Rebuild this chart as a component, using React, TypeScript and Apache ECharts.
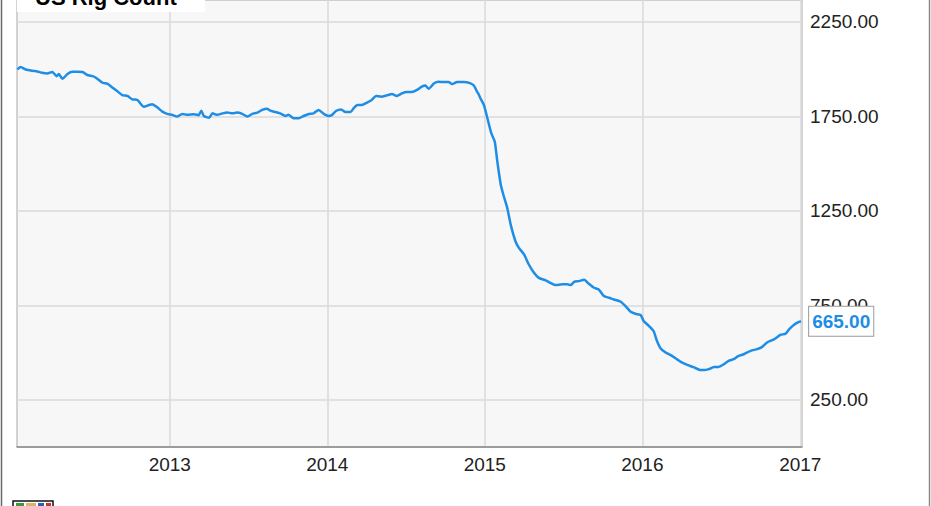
import React, { useEffect, useRef } from "react";
import * as echarts from "echarts";

const titleText = "US Rig Count";
const lastValueLabel = "665.00";

const dates = [
  "2012-01-14", "2012-01-21", "2012-02-02", "2012-02-17", "2012-02-29", "2012-03-11", "2012-03-23", "2012-04-04",
  "2012-04-14", "2012-04-19", "2012-04-27", "2012-05-09", "2012-05-20", "2012-06-01", "2012-06-13", "2012-06-24",
  "2012-07-06", "2012-07-13", "2012-07-29", "2012-08-09", "2012-08-21", "2012-09-01", "2012-09-13", "2012-09-25",
  "2012-10-06", "2012-10-18", "2012-11-02", "2012-11-14", "2012-11-21", "2012-12-03", "2012-12-15", "2012-12-26",
  "2013-01-07", "2013-01-18", "2013-01-30", "2013-02-11", "2013-02-26", "2013-03-09", "2013-03-15", "2013-03-21",
  "2013-04-02", "2013-04-10", "2013-04-21", "2013-05-03", "2013-05-14", "2013-05-26", "2013-06-06", "2013-06-18",
  "2013-06-30", "2013-07-11", "2013-07-23", "2013-08-03", "2013-08-14", "2013-08-22", "2013-09-03", "2013-09-14",
  "2013-09-26", "2013-10-03", "2013-10-15", "2013-10-27", "2013-11-07", "2013-11-19", "2013-11-30", "2013-12-12",
  "2013-12-24",
  "2014-01-04", "2014-01-12", "2014-01-22", "2014-02-02", "2014-02-12", "2014-02-24", "2014-03-03", "2014-03-12",
  "2014-03-22", "2014-04-03", "2014-04-14", "2014-04-24", "2014-05-06", "2014-05-19", "2014-05-31", "2014-06-11",
  "2014-06-23", "2014-07-04", "2014-07-16", "2014-07-28", "2014-08-08", "2014-08-16", "2014-08-24", "2014-09-05",
  "2014-09-16", "2014-09-28", "2014-10-09", "2014-10-17", "2014-10-29", "2014-11-13", "2014-11-29", "2014-12-07",
  "2014-12-14", "2014-12-18", "2014-12-22", "2014-12-30",
  "2015-01-07", "2015-01-16", "2015-01-24", "2015-01-30", "2015-02-07", "2015-02-13", "2015-02-22", "2015-03-02",
  "2015-03-13", "2015-03-21", "2015-04-02", "2015-04-13", "2015-04-25", "2015-05-06", "2015-05-22", "2015-06-02",
  "2015-06-14", "2015-06-30", "2015-07-11", "2015-07-19", "2015-07-27", "2015-08-07", "2015-08-19", "2015-08-30",
  "2015-09-11", "2015-09-22", "2015-10-04", "2015-10-16", "2015-10-27", "2015-11-12", "2015-11-23", "2015-12-05",
  "2015-12-16", "2015-12-28",
  "2016-01-04", "2016-01-16", "2016-01-27", "2016-02-04", "2016-02-12", "2016-02-24", "2016-03-07", "2016-03-18",
  "2016-03-30", "2016-04-14", "2016-04-30", "2016-05-15", "2016-05-23", "2016-06-03", "2016-06-15", "2016-06-26",
  "2016-07-08", "2016-07-19", "2016-07-31", "2016-08-11", "2016-08-23", "2016-09-08", "2016-09-23", "2016-10-05",
  "2016-10-16", "2016-11-01", "2016-11-16", "2016-11-28", "2016-12-06", "2016-12-17", "2016-12-29", "2017-01-03",
];

const rigCount = [
  1998, 2012, 1998, 1991, 1988, 1981, 1977, 1985,
  1963, 1974, 1949, 1974, 1986, 1986, 1985, 1969,
  1963, 1956, 1928, 1924, 1903, 1884, 1863, 1858,
  1840, 1837, 1801, 1810, 1814, 1798, 1775, 1763,
  1758, 1749, 1763, 1758, 1761, 1756, 1780, 1752,
  1743, 1766, 1758, 1766, 1771, 1766, 1770, 1763,
  1749, 1763, 1770, 1784, 1791, 1780, 1773, 1766,
  1752, 1758, 1740, 1740, 1752, 1763, 1766, 1784,
  1763,
  1752, 1758, 1780, 1787, 1773, 1773, 1793, 1810,
  1810, 1823, 1837, 1858, 1854, 1861, 1868, 1858,
  1872, 1879, 1879, 1890, 1907, 1914, 1896, 1924,
  1933, 1932, 1932, 1921, 1932, 1932, 1925, 1912,
  1881, 1866, 1845, 1810,
  1740, 1661, 1617, 1511, 1388, 1335, 1265, 1177,
  1089, 1054, 1019, 966, 922, 895, 882, 869,
  857, 861, 861, 857, 874, 878, 885, 864,
  843, 834, 799, 790, 781, 769, 746, 716,
  705, 699,
  667, 641, 614, 561, 523, 500, 486, 470,
  451, 435, 421, 407, 407, 412, 424, 424,
  438, 456, 465, 482, 491, 509, 518, 530,
  553, 570, 593, 600, 623, 646, 662, 665,
];

const xTickDates = ["2013-01-01", "2014-01-01", "2015-01-01", "2016-01-01", "2017-01-01"];
const yTickValues = [250, 750, 1250, 1750, 2250];
const xRange = ["2012-01-13", "2017-01-05"];
const yRange = [0, 2366];

const FONT = "'Liberation Sans', Arial, Helvetica, sans-serif";
const LINE_COLOR = "#1e8de6";

const toTime = (d: string) => new Date(d + "T00:00:00").getTime();

export default function App() {
  const ref = useRef<HTMLDivElement>(null);

  useEffect(() => {
    if (!ref.current) return;
    const chart = echarts.init(ref.current, undefined, { renderer: "svg" });
    const data = dates.map((d, i) => [toTime(d), rigCount[i]]);
    const xTicks = xTickDates.map(toTime);

    chart.setOption({
      animation: false,
      backgroundColor: "#ffffff",
      textStyle: { fontFamily: FONT },
      grid: {
        left: 17,
        right: 129,
        top: -2,
        bottom: 59,
        show: true,
        backgroundColor: "#f7f7f7",
        borderColor: "#a8a8a8",
        borderWidth: 1,
      },
      xAxis: {
        type: "value",
        min: toTime(xRange[0]),
        max: toTime(xRange[1]),
        axisLine: { show: true, lineStyle: { color: "#8a8a8a", width: 1.5 } },
        axisTick: { show: false, customValues: xTicks },
        axisLabel: {
          customValues: xTicks,
          formatter: (v: number) => String(new Date(v).getFullYear()),
          color: "#222",
          fontSize: 19,
          fontFamily: FONT,
          margin: 8,
          hideOverlap: false,
        },
        splitLine: { show: true, lineStyle: { color: "#dadada", width: 1.5 } },
      },
      yAxis: {
        type: "value",
        position: "right",
        min: yRange[0],
        max: yRange[1],
        axisLine: { show: false },
        axisTick: { show: false, customValues: yTickValues },
        axisLabel: {
          customValues: yTickValues,
          formatter: (v: number) => v.toFixed(2),
          color: "#222",
          fontSize: 19,
          fontFamily: FONT,
          margin: 8,
        },
        splitLine: { show: true, lineStyle: { color: "#dadada", width: 1.5 } },
      },
      series: [
        {
          type: "line",
          data,
          showSymbol: false,
          symbol: "none",
          smooth: 0.2,
          lineStyle: { color: LINE_COLOR, width: 2.5 },
          z: 5,
          endLabel: {
            show: true,
            formatter: () => lastValueLabel,
            distance: 8,
            color: LINE_COLOR,
            fontWeight: "bold",
            fontSize: 19,
            fontFamily: FONT,
            backgroundColor: "#ffffff",
            borderColor: "#9a9a9a",
            borderWidth: 1,
            padding: [4, 3, 3, 3],
            lineHeight: 22,
          },
        },
      ],
      graphic: [
        {
          type: "rect",
          z: 100,
          shape: { x: 17, y: -12, width: 188, height: 24 },
          style: { fill: "#ffffff" },
        },
        {
          type: "text",
          z: 101,
          x: 35,
          y: 8,
          style: {
            text: titleText,
            fill: "#000",
            font: `bold 22px ${FONT}`,
            verticalAlign: "bottom",
          },
        },
        {
          type: "line",
          z: 100,
          shape: { x1: 1.5, y1: 0, x2: 1.5, y2: 506 },
          style: { stroke: "#6a6a6a", lineWidth: 1.5 },
        },
        {
          type: "line",
          z: 100,
          shape: { x1: 929.5, y1: 0, x2: 929.5, y2: 506 },
          style: { stroke: "#8a8a8a", lineWidth: 1.5 },
        },
        {
          type: "group",
          z: 100,
          children: [
            { type: "rect", shape: { x: 13, y: 501, width: 40, height: 8 }, style: { fill: "#ffffff", stroke: "#111", lineWidth: 1.5 } },
            { type: "rect", shape: { x: 16, y: 503, width: 8, height: 6 }, style: { fill: "#3c9a3c" } },
            { type: "rect", shape: { x: 26, y: 503, width: 10, height: 6 }, style: { fill: "#d9b36a" } },
            { type: "rect", shape: { x: 38, y: 503, width: 6, height: 6 }, style: { fill: "#2a5fb0" } },
            { type: "rect", shape: { x: 46, y: 503, width: 5, height: 6 }, style: { fill: "#c0392b" } },
          ],
        },
      ],
    });

    return () => chart.dispose();
  }, []);

  return (
    <div
      ref={ref}
      style={{ position: "fixed", left: 0, top: 0, width: 931, height: 506 }}
    />
  );
}
